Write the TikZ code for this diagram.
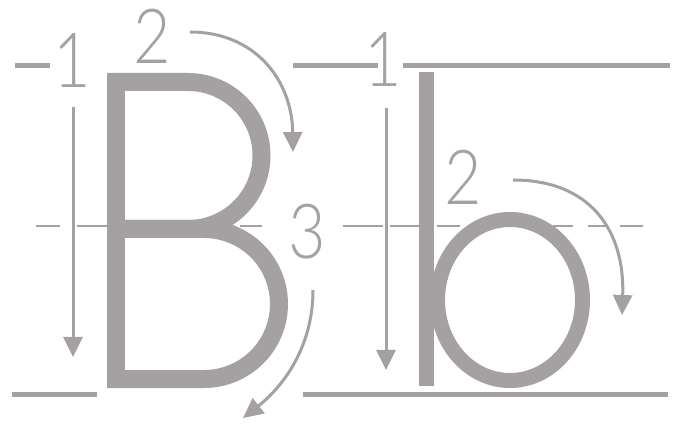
\documentclass[tikz,border=0pt]{standalone}
\usepackage{fontspec}
\IfFontExistsTF{Lato Light}{\setmainfont{Lato Light}}{%
  \IfFontExistsTF{Fira Sans Light}{\setmainfont{Fira Sans Light}}{\setmainfont{Lato}}}
\usetikzlibrary{arrows.meta}
\definecolor{gr}{RGB}{165,160,161}
\begin{document}
\begin{tikzpicture}[x=1pt,y=-1pt,
  guide/.style={draw=gr,line width=5pt},
  midline/.style={draw=gr,line width=1.6pt},
  letter/.style={draw=gr,line width=18pt,line join=miter},
  arr/.style={draw=gr,line width=3pt,-{Triangle[length=20pt,width=19pt]}},
  num/.style={text=gr,inner sep=0pt,font=\fontsize{76}{76}\selectfont,xscale=0.85}]
\useasboundingbox (0,0) rectangle (685,427);
% guidelines
\coordinate (t1a) at (15,66);  \coordinate (t1b) at (50,66);
\coordinate (t2a) at (293,66); \coordinate (t2b) at (378,66);
\coordinate (t3a) at (403,66); \coordinate (t3b) at (670,66);
\coordinate (b1a) at (12,394.5); \coordinate (b1b) at (97,394.5);
\coordinate (b2a) at (303,394.5); \coordinate (b2b) at (668,394.5);
\draw[guide] (t1a) -- (t1b);
\draw[guide] (t2a) -- (t2b);
\draw[guide] (t3a) -- (t3b);
\draw[guide] (b1a) -- (b1b);
\draw[guide] (b2a) -- (b2b);
% dashed midline
\foreach \a/\b in {36/60,77/110,240/262,343/383,390/420,437/460,553/573,588/607,620/643}
  \draw[midline] (\a,226) -- (\b,226);
% letter B
\fill[gr] (107,73) rectangle (125,388);
\draw[letter] (107,82) -- (188,82) arc[start angle=-90,end angle=90,radius=73.5] -- (116,229);
\draw[letter] (116,229) -- (204,229) arc[start angle=-90,end angle=90,radius=75] -- (107,379);
% letter b
\fill[gr] (419,72) rectangle (434,386);
\draw[draw=gr,line width=15pt] (510,300) ellipse[x radius=72.5,y radius=80.5];
% numbers
\node[num] (n1) at (72,61) {1};
\node[num] (n2) at (152,36) {2};
\node[num] (n3) at (307,232) {3};
\node[num] (m1) at (383,60) {1};
\node[num] (m2) at (463,177) {2};
% arrows
\coordinate (a1s) at (73,107); \coordinate (a1e) at (73,357);
\coordinate (a2s) at (190,32); \coordinate (a2e) at (293,152);
\coordinate (a3s) at (313,290); \coordinate (a3e) at (243,418);
\coordinate (c1s) at (386,108); \coordinate (c1e) at (386,370);
\coordinate (c2s) at (513,180); \coordinate (c2e) at (622,315);
\draw[arr] (a1s) -- (a1e);
\draw[arr] (a2s) .. controls (255,32) and (292,80) .. (a2e);
\draw[arr] (a3s) .. controls (313,345) and (285,385) .. (a3e);
\draw[arr] (c1s) -- (c1e);
\draw[arr] (c2s) .. controls (590,180) and (625,230) .. (c2e);
\end{tikzpicture}
\end{document}
